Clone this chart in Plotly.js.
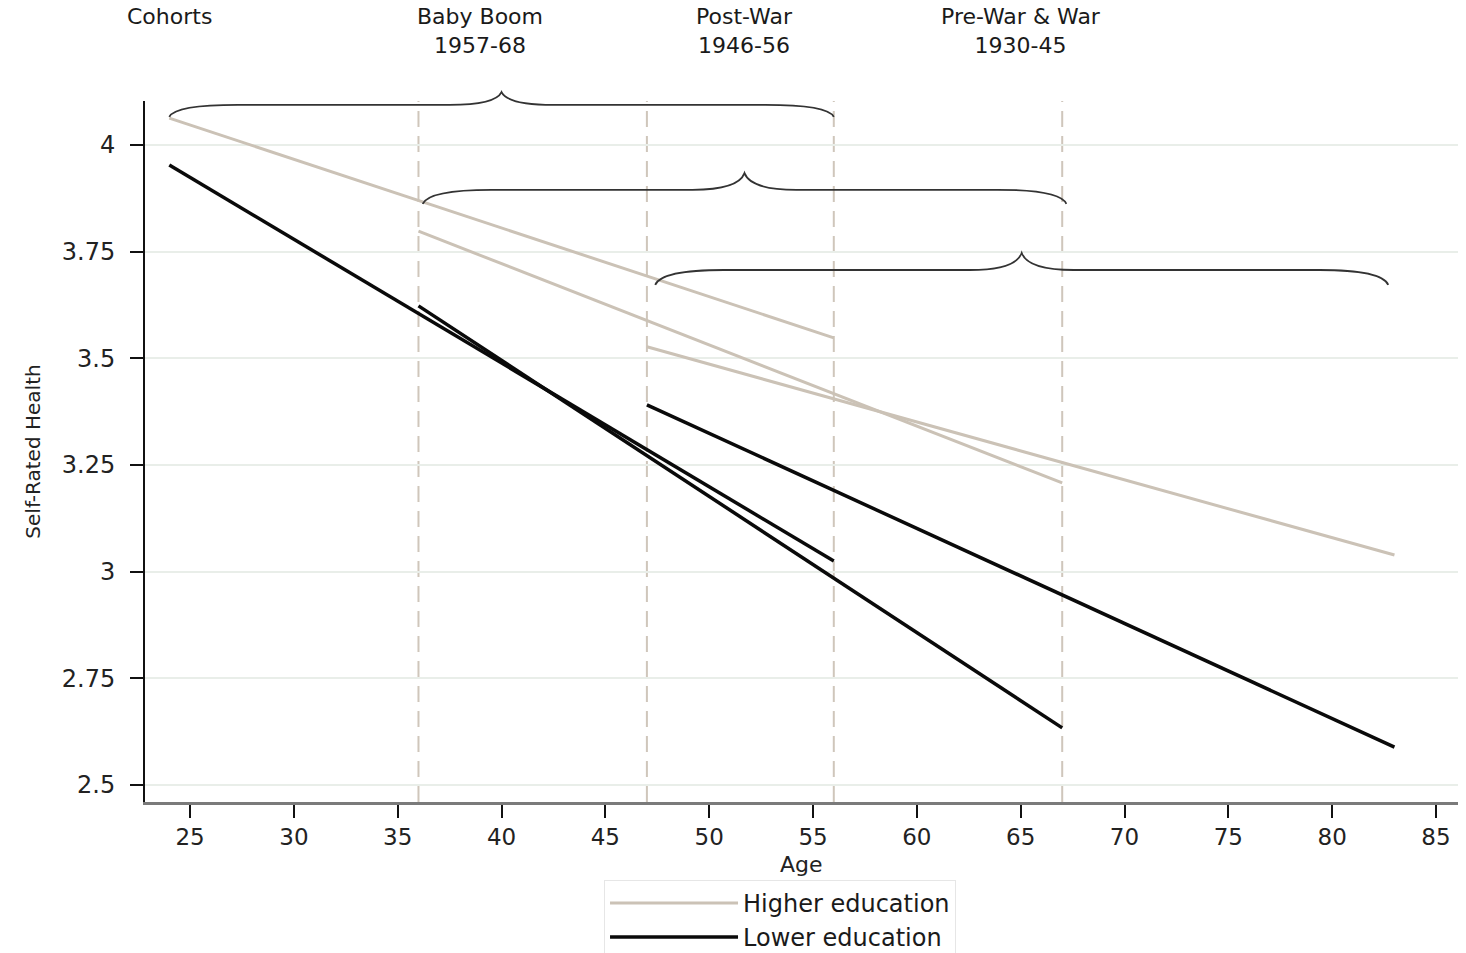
<!DOCTYPE html>
<html>
<head>
<meta charset="utf-8">
<script src="https://cdn.plot.ly/plotly-3.0.1.min.js"></script>
<style>
  html, body { margin: 0; padding: 0; background: #ffffff; }
  #chart { width: 1466px; height: 953px; }
</style>
</head>
<body>
<div id="chart"></div>
<script>
// ---------------- Data ----------------
const cohortNames = ['Baby Boom 1957-68', 'Post-War 1946-56', 'Pre-War & War 1930-45'];
const ageStart = [24, 36, 47];
const ageEnd   = [56, 67, 83];

const higherStart = [4.063, 3.798, 3.527];
const higherEnd   = [3.548, 3.208, 3.039];
const lowerStart  = [3.953, 3.623, 3.391];
const lowerEnd    = [3.025, 2.634, 2.589];

const seriesNames = ['Higher education', 'Lower education'];

const xTicks = [25, 30, 35, 40, 45, 50, 55, 60, 65, 70, 75, 80, 85];
const yTicks = [2.5, 2.75, 3, 3.25, 3.5, 3.75, 4];
const yTickText = ['2.5', '2.75', '3', '3.25', '3.5', '3.75', '4'];

const cohortBoundaries = [36, 47, 56, 67];

const headerLine1 = ['Cohorts', 'Baby Boom', 'Post-War', 'Pre-War & War'];
const headerLine2 = ['', '1957-68', '1946-56', '1930-45'];

const xTitle = 'Age';
const yTitle = 'Self-Rated Health';

// ---------------- Layout constants ----------------
const FONT = 'DejaVu Sans, Verdana, sans-serif';
const xRange = [22.83, 86.06];
const yRange = [2.4602, 4.1031];
const HIGH_COLOR = '#cbc2b6';
const LOW_COLOR = '#0a0a0a';

function yPaper(v) { return (v - yRange[0]) / (yRange[1] - yRange[0]); }

// ---------------- Traces ----------------
const traces = [];
for (let i = 0; i < ageStart.length; i++) {
  traces.push({
    type: 'scatter', mode: 'lines',
    x: [ageStart[i], ageEnd[i]], y: [higherStart[i], higherEnd[i]],
    name: seriesNames[0], legendgroup: 'high', showlegend: i === 0,
    line: { color: HIGH_COLOR, width: 3 },
    hovertemplate: cohortNames[i] + '<br>Age %{x}<br>%{y}<extra>' + seriesNames[0] + '</extra>'
  });
}
for (let i = 0; i < ageStart.length; i++) {
  traces.push({
    type: 'scatter', mode: 'lines',
    x: [ageStart[i], ageEnd[i]], y: [lowerStart[i], lowerEnd[i]],
    name: seriesNames[1], legendgroup: 'low', showlegend: i === 0,
    line: { color: LOW_COLOR, width: 3.5 },
    hovertemplate: cohortNames[i] + '<br>Age %{x}<br>%{y}<extra>' + seriesNames[1] + '</extra>'
  });
}

// ---------------- Shapes ----------------
const shapes = [];
cohortBoundaries.forEach(function (xv) {
  shapes.push({
    type: 'line', xref: 'x', yref: 'paper', x0: xv, x1: xv, y0: 0, y1: 1,
    line: { color: '#cfc6bb', width: 2, dash: '16px,9px' }, layer: 'below'
  });
});

// curly braces spanning each cohort's age range
const braceSpec = [
  { xa: 24.0, xb: 56.0, ye: 4.066, yh: 4.094, yc: 4.124 },
  { xa: 36.2, xb: 67.2, ye: 3.862, yh: 3.895, yc: 3.934 },
  { xa: 47.4, xb: 82.7, ye: 3.672, yh: 3.707, yc: 3.747 }
];
braceSpec.forEach(function (b) {
  const xc = (b.xa + b.xb) / 2;
  const we = 3.3, wc = 2.5;
  const pe = yPaper(b.ye), ph = yPaper(b.yh), pc = yPaper(b.yc);
  const d = 'M' + b.xa + ',' + pe +
    ' Q' + (b.xa + 0.3) + ',' + ph + ' ' + (b.xa + we) + ',' + ph +
    ' L' + (xc - wc) + ',' + ph +
    ' Q' + (xc - 0.3) + ',' + ph + ' ' + xc + ',' + pc +
    ' Q' + (xc + 0.3) + ',' + ph + ' ' + (xc + wc) + ',' + ph +
    ' L' + (b.xb - we) + ',' + ph +
    ' Q' + (b.xb - 0.3) + ',' + ph + ' ' + b.xb + ',' + pe;
  shapes.push({
    type: 'path', xref: 'x', yref: 'paper', path: d,
    line: { color: '#333333', width: 1.8 }, layer: 'above'
  });
});

// ---------------- Annotations ----------------
const headerX = [24, 38.95, 51.7, 65.0];
const annotations = [];
for (let i = 0; i < headerLine1.length; i++) {
  annotations.push({
    text: headerLine2[i] ? headerLine1[i] + '<br>' + headerLine2[i] : headerLine1[i],
    xref: 'x', yref: 'paper', x: headerX[i], y: 1.141,
    xanchor: 'center', yanchor: 'top', align: 'center', showarrow: false,
    font: { family: FONT, size: 22, color: '#1a1a1a' }
  });
}
// x-axis title placed just beneath the tick labels
annotations.push({
  text: xTitle, xref: 'paper', yref: 'paper', x: 0.5, y: -0.089,
  xanchor: 'center', yanchor: 'middle', showarrow: false,
  font: { family: FONT, size: 22, color: '#222222' }
});

// ---------------- Layout ----------------
const layout = {
  width: 1466, height: 953,
  paper_bgcolor: '#ffffff', plot_bgcolor: '#ffffff',
  margin: { l: 145, r: 8, t: 101, b: 151, autoexpand: false },
  font: { family: FONT, color: '#1a1a1a' },
  showlegend: true,
  xaxis: {
    range: xRange, tickmode: 'array', tickvals: xTicks,
    showgrid: false, zeroline: false,
    showline: true, linecolor: '#7a7a7a', linewidth: 2.5,
    ticks: 'outside', ticklen: 13, tickwidth: 2, tickcolor: '#111111',
    ticklabelstandoff: 0,
    tickfont: { family: FONT, size: 23, color: '#222222' }
  },
  yaxis: {
    range: yRange, tickmode: 'array', tickvals: yTicks, ticktext: yTickText,
    showgrid: true, gridcolor: '#e9eee9', gridwidth: 2, zeroline: false,
    showline: true, linecolor: '#111111', linewidth: 2,
    ticks: 'outside', ticklen: 13, tickwidth: 2, tickcolor: '#111111',
    ticklabelstandoff: 10,
    tickfont: { family: FONT, size: 24, color: '#222222' },
    title: { text: yTitle, font: { family: FONT, size: 20, color: '#222222' }, standoff: 16 }
  },
  legend: {
    x: 0.3496, xanchor: 'left', y: -0.111, yanchor: 'top',
    bgcolor: '#ffffff', bordercolor: '#e6e6e6', borderwidth: 1,
    itemwidth: 128, tracegroupgap: 0,
    font: { family: FONT, size: 24, color: '#1a1a1a' }
  },
  shapes: shapes,
  annotations: annotations
};

Plotly.newPlot('chart', traces, layout, { displayModeBar: false, staticPlot: false });
</script>
</body>
</html>
